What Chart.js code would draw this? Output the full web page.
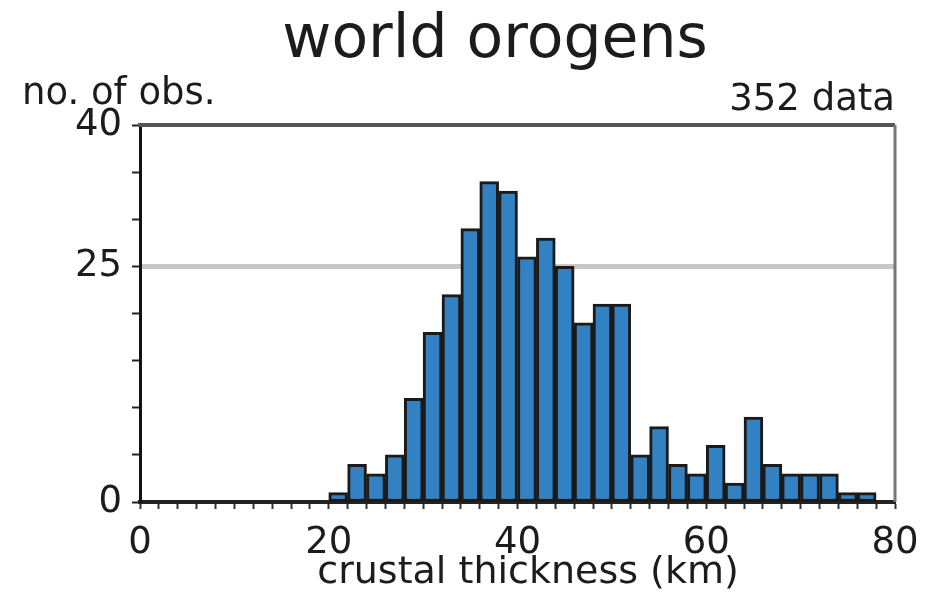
<!DOCTYPE html>
<html>
<head>
<meta charset="utf-8">
<script src="https://cdn.jsdelivr.net/npm/chart.js@4.4.1/dist/chart.umd.min.js"></script>
<style>
  html, body { margin: 0; padding: 0; background: #fff; }
  #wrap { width: 939px; height: 597px; }
</style>
</head>
<body>
<div id="wrap"><canvas id="orogens" width="939" height="597"></canvas></div>
<script>
// histogram bins: lower edge of each 2 km bin
var binStart = [0, 2, 4, 6, 8, 10, 12, 14, 16, 18,
                20, 22, 24, 26, 28, 30, 32, 34, 36, 38,
                40, 42, 44, 46, 48, 50, 52, 54, 56, 58,
                60, 62, 64, 66, 68, 70, 72, 74, 76, 78];
var binWidth = 2;
// number of observations in each bin (352 total)
var counts = [0, 0, 0, 0, 0, 0, 0, 0, 0, 0,
              1, 4, 3, 5, 11, 18, 22, 29, 34, 33,
              26, 28, 25, 19, 21, 21, 5, 8, 4, 3,
              6, 2, 9, 4, 3, 3, 3, 1, 1, 0];
var xTickLabels = [0, 20, 40, 60, 80];
var yTickLabels = [0, 25, 40];
var gridValue = 25;

var txt = "#1c1c1c";
var fam = "'DejaVu Sans', Verdana, sans-serif";

// textos sueltos y marco del grafico
var extras = {
    id: "extras",
    afterDatasetsDraw: function(chart) {
        var c = chart.ctx, a = chart.chartArea;
        c.save();
        c.strokeStyle = "#555";
        c.lineWidth = 4;
        c.beginPath();
        c.moveTo(a.left - 2, a.top);
        c.lineTo(a.right, a.top);
        c.stroke();
        c.strokeStyle = "#777";
        c.lineWidth = 3;
        c.beginPath();
        c.moveTo(a.right, a.top);
        c.lineTo(a.right, a.bottom);
        c.stroke();
        c.fillStyle = txt;
        c.textBaseline = "alphabetic";
        // titulo
        c.textAlign = "center";
        c.font = "60px " + fam;
        c.fillText("world orogens", 495, 57);
        // eje x
        c.font = "38px " + fam;
        c.fillText("crustal thickness (km)", 528, 583);
        c.font = "37px " + fam;
        c.textAlign = "left";
        c.fillText("no. of obs.", 22, 104);
        c.textAlign = "right";
        c.fillText("352 data", a.right, 110);
        c.restore();
    }
};

var ctx = document.querySelector("#orogens");
var chart = new Chart(ctx, {
    type: "bar",
    data: {
        datasets: [{
            label: "observations",
            data: binStart.map(function(b, i) { return { x: b + binWidth / 2, y: counts[i] }; }),
            backgroundColor: "#3282c3",
            borderColor: "#1a1a1a",
            borderWidth: 3,
            borderSkipped: false,
            barPercentage: 1.0,
            categoryPercentage: 1.0
        }]
    },
    options: {
        responsive: false,
        animation: false,
        events: [],
        layout: { padding: { left: 0, right: 44, top: 125, bottom: 0 } },
        plugins: {
            legend: { display: false },
            tooltip: { enabled: false },
            title: { display: false }
        },
        scales: {
            x: {
                type: "linear",
                min: 0,
                max: 80,
                offset: false,
                afterFit: function(s) { s.height = 95; },
                border: { color: "#222", width: 4 },
                grid: {
                    offset: false,
                    drawOnChartArea: false,
                    tickLength: 7,
                    tickColor: "#333",
                    tickWidth: 2
                },
                ticks: {
                    stepSize: 2,
                    autoSkip: false,
                    maxRotation: 0,
                    padding: 12,
                    color: txt,
                    font: { family: fam, size: 37 },
                    callback: function(v) { return xTickLabels.indexOf(v) >= 0 ? String(v) : ""; }
                }
            },
            y: {
                min: 0,
                max: 40,
                afterFit: function(s) { s.width = 140; },
                border: { color: "#111", width: 3 },
                grid: {
                    color: function(c) { return c.tick && c.tick.value === gridValue ? "#c8c8c8" : "rgba(0,0,0,0)"; },
                    lineWidth: function(c) { return c.tick && c.tick.value === gridValue ? 5 : 1; },
                    tickColor: "#222",
                    tickWidth: 2,
                    tickLength: 8
                },
                ticks: {
                    stepSize: 5,
                    autoSkip: false,
                    padding: 10,
                    color: txt,
                    font: { family: fam, size: 37 },
                    callback: function(v) { return yTickLabels.indexOf(v) >= 0 ? String(v) : ""; }
                }
            }
        }
    },
    plugins: [extras]
});
</script>
</body>
</html>
